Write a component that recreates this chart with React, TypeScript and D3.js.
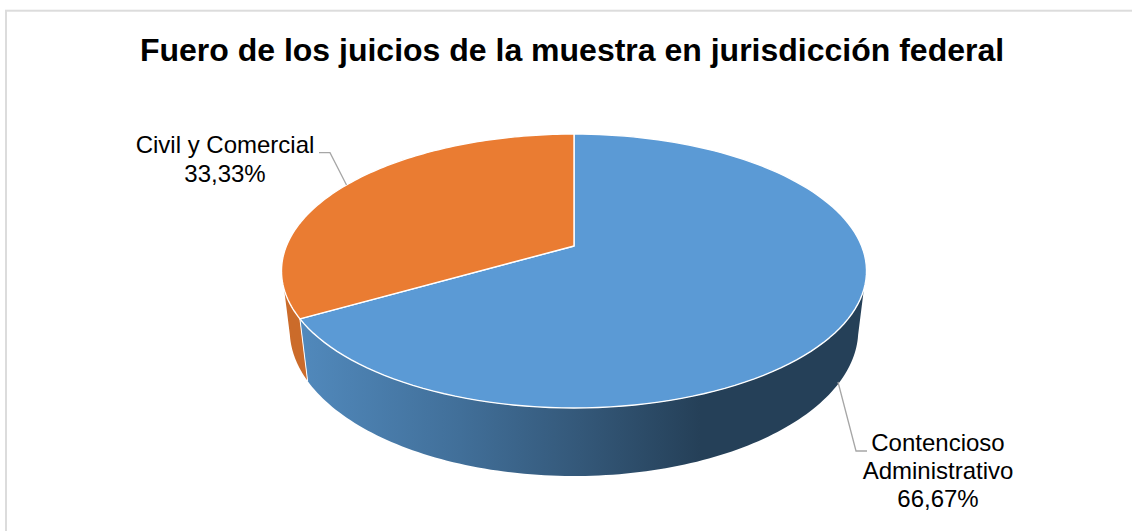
import React from "react";
import * as d3 from "d3";

const categories = ["Contencioso Administrativo", "Civil y Comercial"];
const values = [66.67, 33.33];
const topColors = ["#5b9ad5", "#ea7c32"];
const title = "Fuero de los juicios de la muestra en jurisdicción federal";

const width = 1132;
const height = 531;
const cx = 574;

// perspective ellipses of the pie's top face and of its base
const persp = 0.1825;
const topRim = { y0: 246, a: 132.4, b: 287.6 };
const baseRim = { y0: 303.4, a: 141.1, b: 279.5 };

// part of the side wall that can be seen (angles clockwise from 12 o'clock)
const wallTop = (108 * Math.PI) / 180;
const wallBase = (102.4 * Math.PI) / 180;

type Rim = { y0: number; a: number; b: number };

const project = (rim: Rim, angle: number): [number, number] => {
  const u = Math.sin(angle);
  const v = -Math.cos(angle);
  const w = 1 - persp * v;
  return [cx + (rim.b * u) / w, rim.y0 + (rim.a * v) / w];
};

const sample = (rim: Rim, from: number, to: number) => {
  const n = 120;
  return d3.range(n + 1).map((i) => project(rim, from + ((to - from) * i) / n));
};

const line = d3.line();
const comma = d3.formatLocale({
  decimal: ",",
  thousands: ".",
  grouping: [3],
  currency: ["", ""],
}).format(".2f");

const slices = d3
  .pie<number>()
  .sort(null)
  .startAngle(0)
  .endAngle(2 * Math.PI)(values);

const App = () => {
  const [blue, orange] = slices;
  const split = blue.endAngle;

  const blueWall = [
    ...sample(topRim, wallTop, split),
    ...sample(baseRim, split, wallBase),
  ];
  const orangeWall = [
    ...sample(topRim, split, 2 * Math.PI - wallTop),
    ...sample(baseRim, 2 * Math.PI - wallBase, split),
  ];
  const apex: [number, number] = [cx, topRim.y0];

  return (
    <svg
      width={width}
      height={height}
      style={{ position: "absolute", left: 0, top: 0, background: "#fff" }}
      fontFamily="'Liberation Sans', Arial, sans-serif"
    >
      <defs>
        <linearGradient id="wallBlue" gradientUnits="userSpaceOnUse" x1={300} x2={700} y1={0} y2={0}>
          <stop offset="0" stopColor="#5189bc" />
          <stop offset="0.4" stopColor="#416f99" />
          <stop offset="0.7" stopColor="#345879" />
          <stop offset="1" stopColor="#254058" />
        </linearGradient>
      </defs>

      {/* chart frame, cut off by the right and bottom of the picture */}
      <rect x={6} y={10.7} width={1140} height={540} fill="#fff" stroke="#dcdcdc" strokeWidth={2} />

      <text x={572} y={61} textAnchor="middle" fontSize={32} fontWeight="bold" fill="#000">
        {title}
      </text>

      <path d={line(blueWall) + "Z"} fill="url(#wallBlue)" />
      <path d={line(orangeWall) + "Z"} fill="#cb6b2a" />
      <path d={line([project(topRim, split), project(baseRim, split)]) ?? ""} stroke="#fff" strokeWidth={1} fill="none" />

      {slices.map((s, i) => (
        <path
          key={categories[i]}
          d={line([apex, ...sample(topRim, s.startAngle, s.endAngle)]) + "Z"}
          fill={topColors[i]}
          stroke="#fff"
          strokeWidth={1.4}
          strokeLinejoin="round"
        />
      ))}

      <g stroke="#a6a6a6" strokeWidth={1.3} fill="none">
        <polyline points="319,152.7 330,152.7 346.5,185" />
        <polyline points="838,382 856,451 867,451" />
      </g>

      <g fontSize={24} fill="#000" textAnchor="middle">
        <text x={225} y={152.5}>{categories[1]}</text>
        <text x={225} y={181.5}>{comma(orange.value)}%</text>
        <text x={938} y={451}>{categories[0].split(" ")[0]}</text>
        <text x={938} y={479}>{categories[0].split(" ")[1]}</text>
        <text x={938} y={507}>{comma(blue.value)}%</text>
      </g>
    </svg>
  );
};

export default App;
